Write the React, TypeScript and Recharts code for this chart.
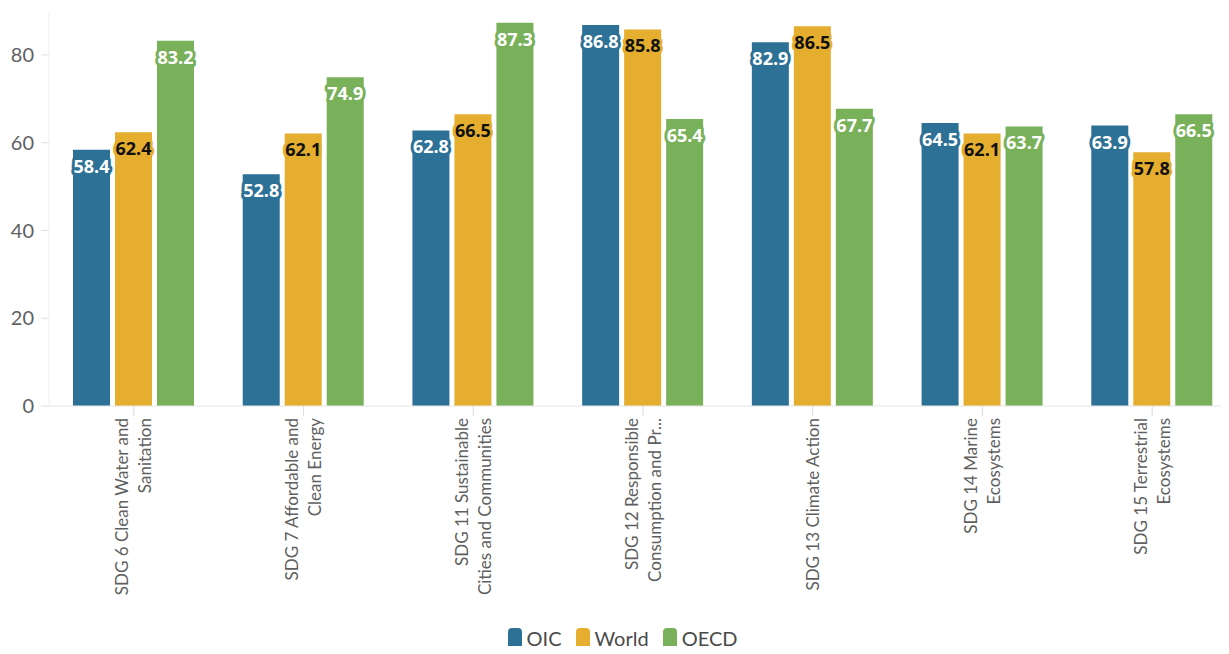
import React from 'react';
import { BarChart, Bar, XAxis, YAxis, LabelList } from 'recharts';

const categories = [
  'SDG 6 Clean Water and|Sanitation',
  'SDG 7 Affordable and|Clean Energy',
  'SDG 11 Sustainable|Cities and Communities',
  'SDG 12 Responsible|Consumption and Pr...',
  'SDG 13 Climate Action',
  'SDG 14 Marine|Ecosystems',
  'SDG 15 Terrestrial|Ecosystems',
];
const oic = [58.4, 52.8, 62.8, 86.8, 82.9, 64.5, 63.9];
const world = [62.4, 62.1, 66.5, 85.8, 86.5, 62.1, 57.8];
const oecd = [83.2, 74.9, 87.3, 65.4, 67.7, 63.7, 66.5];
const yTicks = [0, 20, 40, 60, 80];

const COLORS = { oic: '#2d7196', world: '#e5ae2e', oecd: '#79b15a' };
const FONT = 'Lato, "Open Sans", sans-serif';

const data = categories.map((name, i) => ({ name, oic: oic[i], world: world[i], oecd: oecd[i] }));

const CategoryTick = ({ x, y, payload }: any) => {
  const lines = String(payload.value).split('|');
  const start = lines.length === 1 ? 6 : -5.5;
  return (
    <g transform={`translate(${x},${y}) rotate(-90)`}>
      <text textAnchor="end" fill="#5f5f5f" fontSize={17} fontFamily={FONT}>
        {lines.map((l, i) => (
          <tspan key={i} x={0} y={start + i * 23}>{l}</tspan>
        ))}
      </text>
    </g>
  );
};

const makeLabel = (fill: string, textColor: string) => (props: any) => {
  const { x, y, width, value } = props;
  return (
    <text
      x={x + width / 2}
      y={y + 23}
      textAnchor="middle"
      fontSize={18}
      fontWeight="bold"
      fontFamily={'"Open Sans", sans-serif'}
      fill={textColor}
      stroke={fill}
      strokeWidth={6}
      strokeLinejoin="round"
      paintOrder="stroke"
    >
      {Number(value).toFixed(1)}
    </text>
  );
};

const legendItems = [
  { label: 'OIC', color: COLORS.oic },
  { label: 'World', color: COLORS.world },
  { label: 'OECD', color: COLORS.oecd },
];

const LegendBox = () => (
  <div style={{ position: 'absolute', left: 0, top: 626, width: 1229, display: 'flex', justifyContent: 'center', alignItems: 'center', fontFamily: FONT, fontSize: 20, color: '#4a4a4a', paddingLeft: 30, boxSizing: 'border-box' }}>
    {legendItems.map((it) => (
      <div key={it.label} style={{ display: 'flex', alignItems: 'center', marginRight: 14 }}>
        <span style={{ width: 14, height: 21, borderRadius: 4, background: it.color, display: 'inline-block', marginRight: 5 }} />
        <span>{it.label}</span>
      </div>
    ))}
  </div>
);

export default function App() {
  return (
    <div style={{ margin: -8, width: 1229, height: 654, overflow: 'hidden', background: '#fff', position: 'relative' }}>
      <BarChart
        width={1240}
        height={654}
        data={data}
        margin={{ top: 11, right: 3, left: 0, bottom: 48 }}
        barCategoryGap={24}
        barGap={5}
      >
        <XAxis
          dataKey="name"
          interval={0}
          height={200}
          tick={<CategoryTick />}
          axisLine={{ stroke: '#e6e6e6' }}
          tickLine={{ stroke: '#dcdcdc' }}
          tickSize={10}
        />
        <YAxis
          width={49}
          domain={[0, 90]}
          ticks={yTicks}
          tick={{ fill: '#5f5f5f', fontSize: 20, fontFamily: FONT, dx: -5 }}
          axisLine={{ stroke: '#efefef' }}
          tickLine={{ stroke: '#e0e0e0' }}
          tickSize={8}
        />
        <Bar dataKey="oic" name="OIC" fill={COLORS.oic} isAnimationActive={false}>
          <LabelList dataKey="oic" content={makeLabel(COLORS.oic, '#ffffff')} />
        </Bar>
        <Bar dataKey="world" name="World" fill={COLORS.world} isAnimationActive={false}>
          <LabelList dataKey="world" content={makeLabel(COLORS.world, '#111111')} />
        </Bar>
        <Bar dataKey="oecd" name="OECD" fill={COLORS.oecd} isAnimationActive={false}>
          <LabelList dataKey="oecd" content={makeLabel(COLORS.oecd, '#ffffff')} />
        </Bar>
      </BarChart>
      <LegendBox />
    </div>
  );
}
